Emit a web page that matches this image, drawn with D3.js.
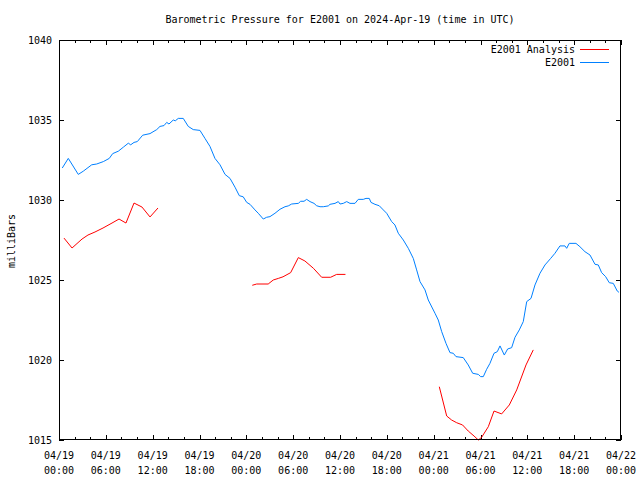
<!DOCTYPE html>
<html><head><meta charset="utf-8">
<script src="https://cdn.jsdelivr.net/npm/d3@7"></script>
<style>
body{margin:0;background:#fff;}
text{font-family:"DejaVu Sans Mono","Liberation Mono",monospace;font-size:10px;fill:#000;}
</style></head>
<body><svg id="c" width="640" height="480"></svg>
<script>
// Hours since 2024-04-19 00:00 UTC and pressure (mb)
const blueHours = [0.42,1.19,2.47,3.11,4.19,4.83,5.68,6.44,6.88,7.6,8.24,8.88,9.19,9.61,10.03,10.72,11.66,12.52,12.94,13.45,13.8,14.09,14.64,14.9,15.28,15.92,16.56,17.2,18.06,18.7,19.34,19.98,20.63,21.27,21.91,22.55,23.1,23.6,24.05,24.47,25.11,25.53,26.17,26.6,27.03,27.67,28.31,28.95,29.37,29.81,30.66,30.96,31.39,31.73,32.16,32.67,33.01,33.44,33.86,34.5,34.72,35.36,35.78,36.0,36.42,36.86,37.28,37.92,38.34,38.98,39.33,39.75,39.97,40.48,41.03,41.55,41.98,42.62,43.04,43.47,44.11,44.75,45.39,45.82,46.25,46.89,47.31,48.17,48.59,49.03,49.58,50.09,50.51,50.86,51.79,52.43,53.0,53.72,54.02,54.36,54.79,55.21,55.73,56.15,56.5,57.05,57.48,57.99,58.42,58.97,59.48,59.92,60.47,60.98,61.62,62.26,62.99,63.54,64.18,64.82,65.04,65.37,66.23,66.74,67.38,68.03,68.67,69.09,69.52,70.03,70.5,71.01,71.52,71.74];
const blueValues = [1032.0,1032.6,1031.6,1031.8,1032.2,1032.25,1032.4,1032.6,1032.9,1033.05,1033.3,1033.55,1033.45,1033.6,1033.65,1034.05,1034.15,1034.4,1034.6,1034.65,1034.85,1034.75,1035.0,1034.95,1035.1,1035.1,1034.6,1034.4,1034.35,1033.85,1033.35,1032.6,1032.2,1031.6,1031.35,1030.8,1030.27,1030.2,1029.85,1029.73,1029.38,1029.17,1028.81,1028.92,1028.96,1029.17,1029.42,1029.58,1029.63,1029.75,1029.79,1029.92,1029.92,1030.04,1029.9,1029.79,1029.64,1029.58,1029.58,1029.63,1029.73,1029.79,1029.9,1029.75,1029.79,1029.9,1029.79,1029.79,1030.04,1030.04,1030.1,1030.1,1029.85,1029.73,1029.64,1029.38,1029.17,1028.65,1028.44,1027.92,1027.5,1026.98,1026.35,1025.63,1024.9,1024.38,1023.75,1022.92,1022.5,1021.77,1021.04,1020.46,1020.42,1020.21,1020.15,1019.69,1019.17,1019.1,1018.96,1018.96,1019.42,1019.79,1020.42,1020.52,1020.88,1020.31,1020.69,1020.77,1021.42,1021.88,1022.4,1023.65,1023.85,1024.69,1025.42,1025.94,1026.35,1026.67,1027.13,1027.13,1026.98,1027.29,1027.29,1027.08,1026.77,1026.56,1025.98,1025.94,1025.46,1025.21,1024.83,1024.79,1024.31,1024.23];
// null marks a gap in the analysis series
const redHours = [0.64,1.67,2.95,3.71,4.61,5.64,6.79,7.69,8.58,9.61,10.63,11.66,12.68,18,24.76,25.33,26.8,27.45,28.1,28.7,29.68,30.66,31.5,32.6,33.65,34.8,35.57,36.7,42,48.72,49.67,50.3,50.95,51.7,52.43,53.17,53.72,54.15,55.0,55.73,56.71,57.69,58.64,59.83,60.76];
const redValues = [1027.62,1027.0,1027.56,1027.81,1028.0,1028.25,1028.56,1028.81,1028.56,1029.81,1029.56,1028.94,1029.5,null,1024.67,1024.75,1024.75,1025.0,1025.1,1025.2,1025.46,1026.4,1026.19,1025.73,1025.17,1025.17,1025.35,1025.35,null,1018.33,1016.5,1016.25,1016.08,1015.94,1015.56,1015.25,1015.0,1015.17,1015.83,1016.81,1016.63,1017.19,1018.13,1019.69,1020.63];
const yTicks = [1015,1020,1025,1030,1035,1040];
const xTickDates = ["04/19","04/19","04/19","04/19","04/20","04/20","04/20","04/20","04/21","04/21","04/21","04/21","04/22"];
const xTickTimes = ["00:00","06:00","12:00","18:00","00:00","06:00","12:00","18:00","00:00","06:00","12:00","18:00","00:00"];
const seriesNames = ["E2001 Analysis","E2001"];
const seriesColors = ["#ff0000","#0080ff"];

const L=59,R=621,T=40,B=440;
const t0 = Date.UTC(2024,3,19,0,0);
const toDate = h => new Date(t0 + h*3600000);
const x = d3.scaleUtc().domain([toDate(0), toDate(72)]).range([L,R]);
const y = d3.scaleLinear().domain([1015,1040]).range([B,T]);
const svg = d3.select("#c");

// minor & major ticks
const majors = d3.range(0,73,6).map(toDate);
const minors = d3.range(0,73,2).filter(h=>h%6!==0).map(toDate);
const g = svg.append("g").attr("stroke","#000").attr("stroke-width",1).attr("shape-rendering","crispEdges");
majors.forEach(d=>{ const px=Math.round(x(d))+0.5;
  g.append("line").attr("x1",px).attr("x2",px).attr("y1",B).attr("y2",B-5);
  g.append("line").attr("x1",px).attr("x2",px).attr("y1",T).attr("y2",T+5);});
minors.forEach(d=>{ const px=Math.round(x(d))+0.5;
  g.append("line").attr("x1",px).attr("x2",px).attr("y1",B).attr("y2",B-3);
  g.append("line").attr("x1",px).attr("x2",px).attr("y1",T).attr("y2",T+3);});
yTicks.forEach(v=>{ const py=Math.round(y(v))+0.5;
  g.append("line").attr("x1",L).attr("x2",L+5).attr("y1",py).attr("y2",py);
  g.append("line").attr("x1",R).attr("x2",R-5).attr("y1",py).attr("y2",py);});

// y labels
svg.append("g").selectAll("text").data(yTicks).join("text")
  .attr("x",52).attr("y",v=>y(v)+4).attr("text-anchor","end").text(v=>v);
// x labels
const xl = svg.append("g").selectAll("text").data(majors).join("text")
  .attr("text-anchor","middle");
xl.append("tspan").attr("x",d=>x(d)).attr("y",459).text((d,i)=>xTickDates[i]);
xl.append("tspan").attr("x",d=>x(d)).attr("y",474).text((d,i)=>xTickTimes[i]);

// title & axis label
svg.append("text").attr("x",(L+R)/2).attr("y",23).attr("text-anchor","middle")
  .text("Barometric Pressure for E2001 on 2024-Apr-19 (time in UTC)");
svg.append("text").attr("transform","translate(15,241) rotate(-90)").attr("text-anchor","middle").text("milliBars");

// series
const blue = blueHours.map((h,i)=>({d:toDate(h),v:blueValues[i]}));
const red = redHours.map((h,i)=>({d:toDate(h),v:redValues[i]}));
const line = d3.line().defined(p=>p.v!==null).x(p=>x(p.d)).y(p=>y(p.v));
svg.append("path").datum(blue).attr("d",line).attr("fill","none").attr("stroke",seriesColors[1]).attr("stroke-width",1);
svg.append("path").datum(red).attr("d",line).attr("fill","none").attr("stroke",seriesColors[0]).attr("stroke-width",1);

// legend
seriesNames.forEach((n,i)=>{
  const ly = 49 + i*13;
  svg.append("text").attr("x",575).attr("y",ly+4).attr("text-anchor","end").text(n);
  svg.append("line").attr("x1",580).attr("x2",609).attr("y1",ly+0.5).attr("y2",ly+0.5)
    .attr("stroke",seriesColors[i]).attr("stroke-width",1).attr("shape-rendering","crispEdges");
});

// frame
svg.append("rect").attr("x",L+0.5).attr("y",T+0.5).attr("width",R-L-1).attr("height",B-T-1)
  .attr("fill","none").attr("stroke","#000").attr("stroke-width",1).attr("shape-rendering","crispEdges");
</script></body></html>
